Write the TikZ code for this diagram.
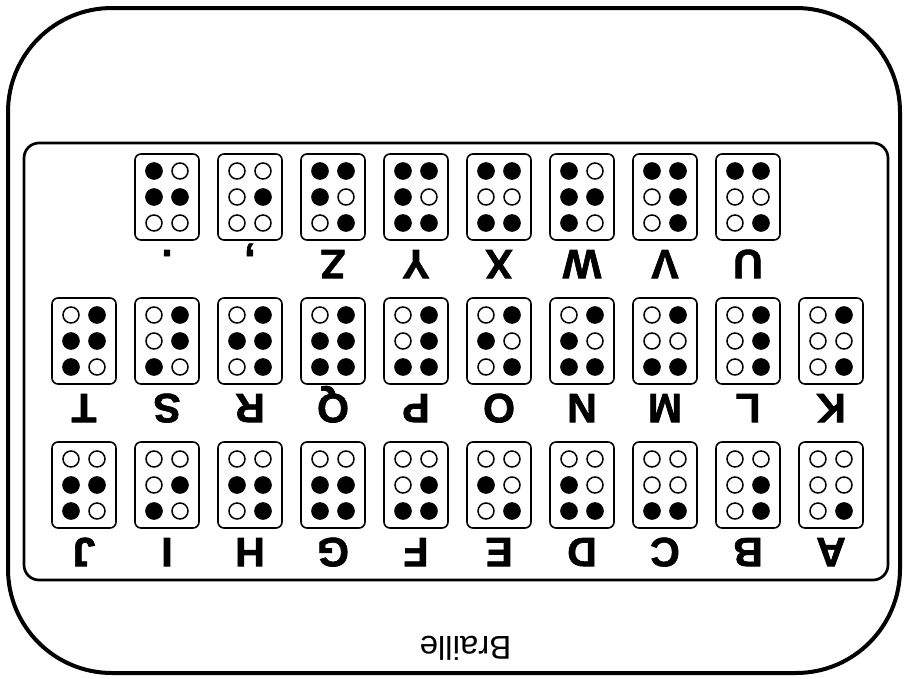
\documentclass[tikz,border=0pt]{standalone}
\usepackage{fontspec}
\setmainfont{Liberation Sans}
\newfontfamily\heavyfont[FakeBold=1.6]{Liberation Sans Bold}
\tikzset{
  outerframe/.style={draw, line width=4pt, rounded corners=104pt},
  innerframe/.style={draw, line width=2.7pt, rounded corners=15pt},
  cellbox/.style={draw, line width=1.6pt, rounded corners=6pt, minimum width=64pt, minimum height=86pt, inner sep=0pt},
  opendot/.style={draw, circle, line width=1.5pt, minimum size=16pt, inner sep=0pt},
  fulldot/.style={fill, circle, minimum size=17pt, inner sep=0pt},
  lett/.style={font=\heavyfont\fontsize{41}{41}\selectfont, inner sep=0pt, anchor=base},
  titletext/.style={font=\fontsize{33}{33}\selectfont, inner sep=0pt, anchor=base}
}
\newcommand\brcell[5]{%
  \node[cellbox] (#1) at (#2,#3) {};
  \node[lett] (#1l) at (#2,#3-53) {#4};
  \foreach \d in {1,...,6}{%
    \pgfmathsetmacro\dx{(\d>3)?13:-13}%
    \pgfmathsetmacro\dy{(mod(\d-1,3)-1)*26}%
    \node[opendot] at ([shift={(\dx,\dy)}]#1.center) {};
  }%
  \foreach \d in {#5}{%
    \pgfmathsetmacro\dx{(\d>3)?13:-13}%
    \pgfmathsetmacro\dy{(mod(\d-1,3)-1)*26}%
    \node[fulldot] at ([shift={(\dx,\dy)}]#1.center) {};
  }%
}
\begin{document}
\begin{tikzpicture}[x=1pt,y=-1pt]
\useasboundingbox (0,0) rectangle (905,678);
\begin{scope}[rotate around={180:(452.5,339)}, transform shape]
  \draw[outerframe] (5,5) rectangle (897,670);
  \draw[innerframe] (17,98) rectangle (881,535);
  \node[titletext] (title) at (439.5,42) {Braille};
  % row 1
  \brcell{cA}{74}{193}{A}{1}
  \brcell{cB}{157}{193}{B}{1,2}
  \brcell{cC}{240}{193}{C}{1,4}
  \brcell{cD}{323}{193}{D}{1,4,5}
  \brcell{cE}{406}{193}{E}{1,5}
  \brcell{cF}{489}{193}{F}{1,2,4}
  \brcell{cG}{572}{193}{G}{1,2,4,5}
  \brcell{cH}{655}{193}{H}{1,2,5}
  \brcell{cI}{738}{193}{I}{2,4}
  \brcell{cJ}{821}{193}{J}{2,4,5}
  % row 2
  \brcell{cK}{74}{337}{K}{1,3}
  \brcell{cL}{157}{337}{L}{1,2,3}
  \brcell{cM}{240}{337}{M}{1,3,4}
  \brcell{cN}{323}{337}{N}{1,3,4,5}
  \brcell{cO}{406}{337}{O}{1,3,5}
  \brcell{cP}{489}{337}{P}{1,2,3,4}
  \brcell{cQ}{572}{337}{Q}{1,2,3,4,5}
  \brcell{cR}{655}{337}{R}{1,2,3,5}
  \brcell{cS}{738}{337}{S}{2,3,4}
  \brcell{cT}{821}{337}{T}{2,3,4,5}
  % row 3
  \brcell{cU}{157}{481}{U}{1,3,6}
  \brcell{cV}{240}{481}{V}{1,2,3,6}
  \brcell{cW}{323}{481}{W}{2,4,5,6}
  \brcell{cX}{406}{481}{X}{1,3,4,6}
  \brcell{cY}{489}{481}{Y}{1,3,4,5,6}
  \brcell{cZ}{572}{481}{Z}{1,3,5,6}
  \brcell{ccomma}{655}{481}{,}{2}
  \brcell{cperiod}{738}{481}{.}{2,5,6}
\end{scope}
\end{tikzpicture}
\end{document}
